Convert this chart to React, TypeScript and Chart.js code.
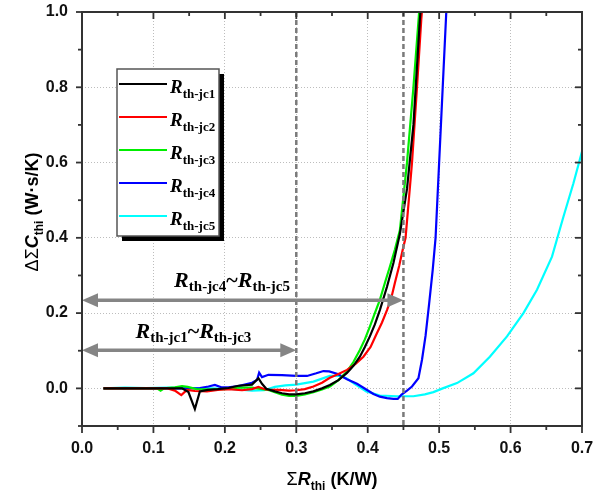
import React, { useEffect, useRef } from 'react';
import { Chart, registerables } from 'chart.js';

Chart.register(...registerables);

// ---------- data ----------
const seriesNames = ['th-jc1', 'th-jc2', 'th-jc3', 'th-jc4', 'th-jc5'];
const seriesColors = ['#000000', '#ff0000', '#00ee00', '#0000ff', '#00ffff'];

const jc1X = [0.03, 0.06, 0.09, 0.12, 0.14, 0.149, 0.158, 0.165, 0.176, 0.19, 0.205, 0.219, 0.238, 0.247, 0.252, 0.258, 0.27, 0.28, 0.29, 0.30, 0.312, 0.324, 0.336, 0.347, 0.359, 0.371, 0.38, 0.389, 0.396, 0.403, 0.41, 0.417, 0.427, 0.436, 0.445, 0.455, 0.464, 0.473, 0.476];
const jc1Y = [0, 0, 0, 0, 0, -0.01, -0.055, -0.008, -0.004, -0.002, 0.001, 0.007, 0.01, 0.027, 0.012, -0.001, -0.008, -0.013, -0.016, -0.016, -0.013, -0.008, 0, 0.009, 0.022, 0.041, 0.06, 0.084, 0.11, 0.138, 0.17, 0.208, 0.27, 0.333, 0.41, 0.53, 0.7, 0.98, 1.05];

const jc2X = [0.03, 0.06, 0.09, 0.12, 0.13, 0.139, 0.147, 0.158, 0.175, 0.19, 0.205, 0.224, 0.238, 0.247, 0.257, 0.276, 0.29, 0.30, 0.312, 0.324, 0.336, 0.347, 0.359, 0.371, 0.383, 0.394, 0.404, 0.413, 0.42, 0.427, 0.433, 0.438, 0.444, 0.449, 0.453, 0.462, 0.469, 0.475, 0.478];
const jc2Y = [0, 0, 0, 0, -0.006, -0.018, -0.004, -0.007, -0.008, -0.004, -0.002, -0.005, -0.002, 0.004, -0.003, -0.004, -0.006, -0.005, -0.002, 0.005, 0.015, 0.028, 0.038, 0.049, 0.065, 0.084, 0.11, 0.147, 0.175, 0.208, 0.24, 0.28, 0.325, 0.368, 0.4, 0.6, 0.8, 0.98, 1.05];

const jc3X = [0.03, 0.06, 0.09, 0.105, 0.11, 0.115, 0.13, 0.14, 0.148, 0.16, 0.18, 0.2, 0.219, 0.238, 0.262, 0.28, 0.29, 0.30, 0.312, 0.324, 0.336, 0.347, 0.359, 0.371, 0.38, 0.389, 0.396, 0.403, 0.41, 0.417, 0.424, 0.431, 0.438, 0.445, 0.455, 0.464, 0.472, 0.475];
const jc3Y = [0, 0, 0, 0, -0.006, 0, 0.003, 0.006, 0.004, -0.002, -0.003, -0.002, 0.002, 0.002, -0.005, -0.017, -0.02, -0.02, -0.016, -0.01, -0.003, 0.005, 0.022, 0.045, 0.07, 0.102, 0.13, 0.164, 0.2, 0.235, 0.28, 0.323, 0.368, 0.42, 0.6, 0.8, 1.0, 1.05];

const jc4X = [0.03, 0.06, 0.09, 0.12, 0.15, 0.165, 0.177, 0.186, 0.195, 0.205, 0.219, 0.238, 0.245, 0.248, 0.252, 0.261, 0.28, 0.30, 0.315, 0.328, 0.338, 0.346, 0.358, 0.371, 0.385, 0.398, 0.408, 0.417, 0.427, 0.436, 0.442, 0.447, 0.455, 0.462, 0.471, 0.476, 0.481, 0.486, 0.491, 0.495, 0.5, 0.505, 0.51, 0.512];
const jc4Y = [0, 0, 0, 0, 0, 0.001, 0.005, 0.009, 0.003, 0.003, 0.006, 0.015, 0.022, 0.042, 0.03, 0.036, 0.035, 0.033, 0.033, 0.04, 0.046, 0.045, 0.038, 0.024, 0.012, -0.003, -0.015, -0.022, -0.026, -0.028, -0.028, -0.017, -0.006, 0.005, 0.027, 0.076, 0.14, 0.225, 0.315, 0.4, 0.6, 0.8, 1.0, 1.05];

const jc5X = [0.03, 0.06, 0.09, 0.12, 0.15, 0.18, 0.205, 0.238, 0.255, 0.27, 0.285, 0.30, 0.324, 0.347, 0.361, 0.37, 0.38, 0.398, 0.417, 0.441, 0.464, 0.48, 0.492, 0.505, 0.525, 0.548, 0.571, 0.595, 0.618, 0.637, 0.658, 0.674, 0.688, 0.70];
const jc5Y = [0, 0.002, 0.001, 0.002, 0.001, 0.0, -0.001, -0.006, -0.005, 0.004, 0.008, 0.01, 0.018, 0.033, 0.033, 0.027, 0.014, -0.008, -0.019, -0.021, -0.021, -0.016, -0.01, 0.0, 0.014, 0.04, 0.084, 0.138, 0.2, 0.262, 0.35, 0.456, 0.545, 0.629];

const seriesX = [jc1X, jc2X, jc3X, jc4X, jc5X];
const seriesY = [jc1Y, jc2Y, jc3Y, jc4Y, jc5Y];

const xTickValues = [0, 0.1, 0.2, 0.3, 0.4, 0.5, 0.6, 0.7];
const xMinorTicks = [0.05, 0.15, 0.25, 0.35, 0.45, 0.55, 0.65];
const yTickValues = [0, 0.2, 0.4, 0.6, 0.8, 1.0];
const yMinorTicks = [-0.1, 0.1, 0.3, 0.5, 0.7, 0.9];

const boundaryLines = [0.3, 0.45];
const arrowFrom = [0, 0];
const arrowTo = [0.45, 0.3];
const arrowY = [0.234, 0.101];
const arrowLabelA = ['th-jc4', 'th-jc1'];
const arrowLabelB = ['th-jc5', 'th-jc3'];
const arrowLabelX = [0.21, 0.156];
const arrowLabelY = [0.27, 0.134];

// ---------- drawing helpers ----------
const SANS = '"Liberation Sans", Arial, sans-serif';
const SERIF = '"Liberation Serif", "Times New Roman", serif';

type Part = { t: string; font: string; dy?: number };

function richWidth(ctx: CanvasRenderingContext2D, parts: Part[]) {
  let w = 0;
  for (const p of parts) {
    ctx.font = p.font;
    w += ctx.measureText(p.t).width;
  }
  return w;
}

function drawRich(ctx: CanvasRenderingContext2D, parts: Part[], x: number, y: number, align: 'left' | 'center') {
  const w = richWidth(ctx, parts);
  let cx = align === 'center' ? x - w / 2 : x;
  ctx.textAlign = 'left';
  ctx.textBaseline = 'alphabetic';
  for (const p of parts) {
    ctx.font = p.font;
    ctx.fillText(p.t, cx, y + (p.dy || 0));
    cx += ctx.measureText(p.t).width;
  }
}

function drawArrow(ctx: CanvasRenderingContext2D, x1: number, x2: number, y: number) {
  const head = 16;
  const half = 7;
  ctx.save();
  ctx.strokeStyle = '#858585';
  ctx.fillStyle = '#858585';
  ctx.lineWidth = 3.5;
  ctx.setLineDash([]);
  ctx.beginPath();
  ctx.moveTo(x1 + head - 2, y);
  ctx.lineTo(x2 - head + 2, y);
  ctx.stroke();
  ctx.beginPath();
  ctx.moveTo(x1, y);
  ctx.lineTo(x1 + head, y - half);
  ctx.lineTo(x1 + head, y + half);
  ctx.closePath();
  ctx.fill();
  ctx.beginPath();
  ctx.moveTo(x2, y);
  ctx.lineTo(x2 - head, y - half);
  ctx.lineTo(x2 - head, y + half);
  ctx.closePath();
  ctx.fill();
  ctx.restore();
}

const decorPlugin = {
  id: 'decor',
  afterDatasetsDraw(chart: any) {
    const ctx: CanvasRenderingContext2D = chart.ctx;
    const xs = chart.scales.x;
    const ys = chart.scales.y;
    const { left, right, top, bottom } = chart.chartArea;

    // dashed boundary lines
    ctx.save();
    ctx.strokeStyle = '#7a7a7a';
    ctx.lineWidth = 2.5;
    ctx.setLineDash([5, 3]);
    for (const v of boundaryLines) {
      const px = xs.getPixelForValue(v);
      ctx.beginPath();
      ctx.moveTo(px, top);
      ctx.lineTo(px, bottom);
      ctx.stroke();
    }
    ctx.restore();

    // arrows
    for (let i = 0; i < arrowFrom.length; i++) {
      drawArrow(ctx, xs.getPixelForValue(arrowFrom[i]), xs.getPixelForValue(arrowTo[i]), ys.getPixelForValue(arrowY[i]));
    }

    // arrow labels
    ctx.save();
    ctx.fillStyle = '#000';
    for (let i = 0; i < arrowFrom.length; i++) {
      const bigR = `italic bold 22px ${SERIF}`;
      const sub = `bold 15px ${SERIF}`;
      drawRich(
        ctx,
        [
          { t: 'R', font: bigR },
          { t: arrowLabelA[i], font: sub, dy: 4 },
          { t: '~', font: `bold 22px ${SERIF}` },
          { t: 'R', font: bigR },
          { t: arrowLabelB[i], font: sub, dy: 4 },
        ],
        xs.getPixelForValue(arrowLabelX[i]),
        ys.getPixelForValue(arrowLabelY[i]),
        'center'
      );
    }
    ctx.restore();

    // frame
    ctx.save();
    ctx.strokeStyle = '#333';
    ctx.lineWidth = 2;
    ctx.setLineDash([]);
    ctx.strokeRect(left, top, right - left, bottom - top);
    ctx.lineWidth = 1.8;
    const tick = (x1: number, y1: number, x2: number, y2: number) => {
      ctx.beginPath();
      ctx.moveTo(x1, y1);
      ctx.lineTo(x2, y2);
      ctx.stroke();
    };
    for (const v of xTickValues) {
      const px = xs.getPixelForValue(v);
      tick(px, bottom, px, bottom + 7);
      tick(px, top, px, top + 7);
    }
    for (const v of xMinorTicks) {
      const px = xs.getPixelForValue(v);
      tick(px, bottom, px, bottom + 4);
      tick(px, top, px, top + 4);
    }
    for (const v of yTickValues) {
      const py = ys.getPixelForValue(v);
      tick(left, py, left - 6, py);
      tick(right, py, right - 7, py);
    }
    for (const v of yMinorTicks) {
      const py = ys.getPixelForValue(v);
      tick(left, py, left - 4, py);
      tick(right, py, right - 4, py);
    }
    ctx.restore();
  },
  afterDraw(chart: any) {
    const ctx: CanvasRenderingContext2D = chart.ctx;
    const { left, right } = chart.chartArea;

    // legend
    ctx.save();
    const bx = 117, by = 69, bw = 102, bh = 167;
    ctx.fillStyle = '#000';
    ctx.fillRect(bx + 5, by + 5, bw, bh);
    ctx.fillStyle = '#fff';
    ctx.fillRect(bx, by, bw, bh);
    ctx.strokeStyle = '#555';
    ctx.lineWidth = 1.5;
    ctx.strokeRect(bx, by, bw, bh);
    for (let i = 0; i < seriesNames.length; i++) {
      const ly = 84 + i * 33;
      ctx.strokeStyle = seriesColors[i];
      ctx.lineWidth = 2.2;
      ctx.beginPath();
      ctx.moveTo(119, ly);
      ctx.lineTo(167, ly);
      ctx.stroke();
      ctx.fillStyle = '#000';
      drawRich(
        ctx,
        [
          { t: 'R', font: `italic bold 19px ${SERIF}` },
          { t: seriesNames[i], font: `bold 13px ${SERIF}`, dy: 5 },
        ],
        170,
        ly + 9,
        'left'
      );
    }
    ctx.restore();

    // x axis title
    ctx.save();
    ctx.fillStyle = '#000';
    drawRich(
      ctx,
      [
        { t: 'Σ', font: `18px ${SANS}` },
        { t: 'R', font: `italic bold 18px ${SANS}` },
        { t: 'thi', font: `bold 12px ${SANS}`, dy: 5 },
        { t: ' (K/W)', font: `bold 18px ${SANS}` },
      ],
      (left + right) / 2,
      485,
      'center'
    );
    ctx.restore();

    // y axis title
    ctx.save();
    ctx.fillStyle = '#000';
    ctx.translate(38, 212);
    ctx.rotate(-Math.PI / 2);
    drawRich(
      ctx,
      [
        { t: 'ΔΣ', font: `18px ${SANS}` },
        { t: 'C', font: `italic bold 18px ${SANS}` },
        { t: 'thi', font: `bold 12px ${SANS}`, dy: 5 },
        { t: ' (W·s/K)', font: `bold 18px ${SANS}` },
      ],
      0,
      0,
      'center'
    );
    ctx.restore();
  },
};

export default function App() {
  const ref = useRef<HTMLCanvasElement | null>(null);

  useEffect(() => {
    if (!ref.current) return;
    const datasets = seriesNames.map((name, i) => ({
      label: 'R' + name,
      data: seriesX[i].map((x, j) => ({ x, y: seriesY[i][j] })),
      borderColor: seriesColors[i],
      backgroundColor: seriesColors[i],
      borderWidth: 2.2,
      pointRadius: 0,
      showLine: true,
      tension: 0,
      clip: 0,
    }));

    const chart = new Chart(ref.current, {
      type: 'scatter',
      data: { datasets },
      options: {
        animation: false,
        responsive: false,
        devicePixelRatio: 1,
        layout: { padding: { top: 12, right: 12, left: 0, bottom: 0 } },
        plugins: { legend: { display: false }, tooltip: { enabled: false } },
        scales: {
          x: {
            type: 'linear',
            min: 0,
            max: 0.7,
            afterBuildTicks: (s: any) => {
              s.ticks = xTickValues.map((v) => ({ value: v }));
            },
            afterFit: (s: any) => {
              s.height = 69;
              s.paddingLeft = 0;
              s.paddingRight = 0;
            },
            ticks: {
              padding: 13,
              color: '#111',
              font: { family: SANS, size: 16, weight: 'bold' },
              maxRotation: 0,
              autoSkip: false,
              callback: (v: any) => Number(v).toFixed(1),
            },
            grid: {
              drawTicks: false,
              lineWidth: 1,
              color: (c: any) => {
                const v = c.tick ? c.tick.value : 0;
                return v > 0.001 && v < 0.699 ? '#bdbdbd' : 'rgba(0,0,0,0)';
              },
            },
            border: { display: false, dash: [1, 2] },
          },
          y: {
            type: 'linear',
            min: -0.1,
            max: 1.0,
            afterBuildTicks: (s: any) => {
              s.ticks = yTickValues.map((v) => ({ value: v }));
            },
            afterFit: (s: any) => {
              s.width = 82;
              s.paddingTop = 0;
              s.paddingBottom = 0;
            },
            ticks: {
              padding: 14,
              color: '#111',
              font: { family: SANS, size: 16, weight: 'bold' },
              autoSkip: false,
              callback: (v: any) => Number(v).toFixed(1),
            },
            grid: {
              drawTicks: false,
              lineWidth: 1,
              color: (c: any) => {
                const v = c.tick ? c.tick.value : 0;
                return v < 0.999 ? '#bdbdbd' : 'rgba(0,0,0,0)';
              },
            },
            border: { display: false, dash: [1, 2] },
          },
        },
      } as any,
      plugins: [decorPlugin],
    });

    return () => chart.destroy();
  }, []);

  return (
    <div style={{ position: 'absolute', left: 0, top: 0, width: 594, height: 495, background: '#fff' }}>
      <canvas ref={ref} width={594} height={495} style={{ display: 'block' }} />
    </div>
  );
}
